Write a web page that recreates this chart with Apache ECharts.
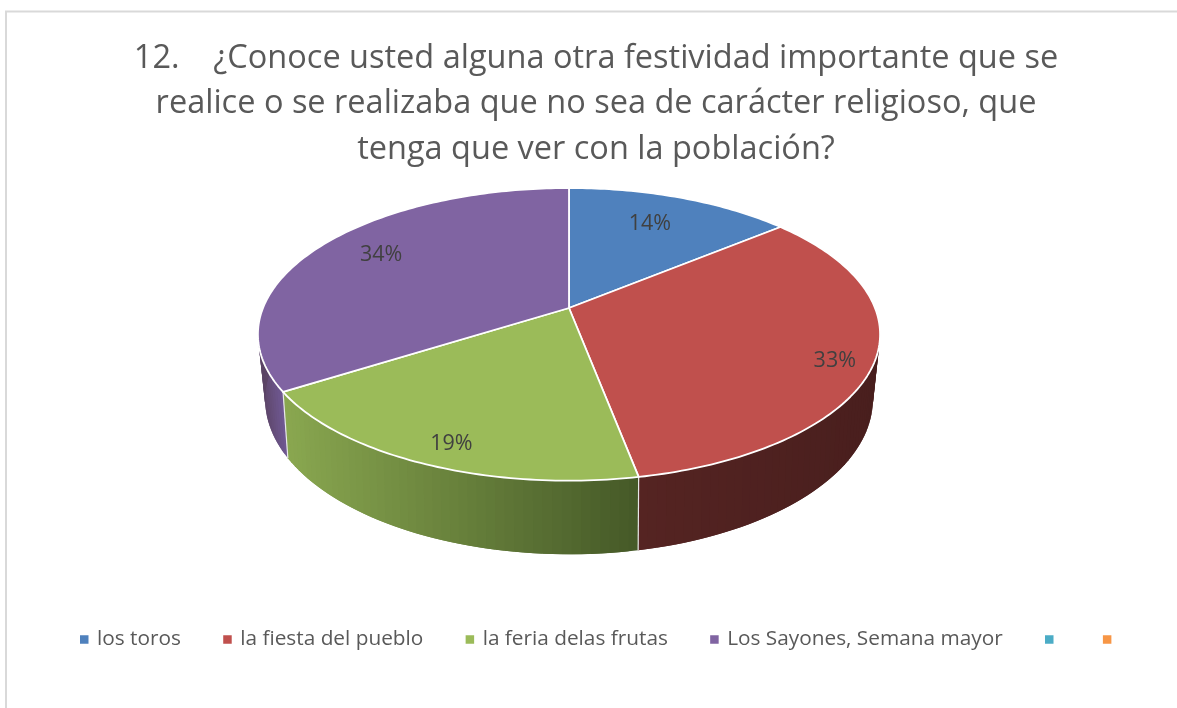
<!DOCTYPE html>
<html>
<head>
<meta charset="utf-8">
<title>Festividades</title>
<script src="https://cdn.jsdelivr.net/npm/echarts@6/dist/echarts.min.js"></script>
<style>
  html, body { margin: 0; padding: 0; background: #fff; }
  #myChart { width: 1177px; height: 708px; }
</style>
</head>
<body>
<div id="myChart"></div>
<script>
// datos
var titleLines = [
  '12.\u00a0\u00a0\u00a0\u00a0¿Conoce usted alguna otra festividad importante que se',
  'realice o se realizaba que no sea de carácter religioso, que',
  'tenga que ver con la población?'
];
var categories = ['los toros', 'la fiesta del pueblo', 'la feria delas frutas', 'Los Sayones, Semana mayor'];
var emptyCategories = ['\u200a', '\u200a\u200a'];
var values = [14, 33, 19, 34];

var colors = ['#4F81BD', '#C0504D', '#9BBB59', '#8064A2', '#4BACC6', '#F79646'];
// color de la pared lateral: [derecha, izquierda] de cada porcion
var wallShades = [
  ['#3a5f8c', '#3a5f8c'],
  ['#4a1f1e', '#552422'],
  ['#465a28', '#8aa850'],
  ['#6f5891', '#6a5386']
];
// sitio de cada etiqueta dentro de la porcion
var labelRadius = [0.744, 0.883, 0.873, 0.781];
var labelShift = [-1.7, 2.7, -1.3, 3.5];

// proyeccion en perspectiva de la cara superior e inferior
var topFace = { cx: 569, cy: 308, a: 306, b: 141.6, k: 0.18 };
var bottomFace = { cx: 569, cy: 369, a: 298, b: 149, k: 0.196 };

var total = values.reduce(function (s, v) { return s + v; }, 0);

function project(face, deg, r) {
  var t = deg * Math.PI / 180;
  var u = Math.sin(t) * r, v = Math.cos(t) * r;
  var d = 1 + face.k * v;
  return [face.cx + face.a * u / d, face.cy - face.b * v / d];
}

function sliceRange(index) {
  var before = 0;
  for (var i = 0; i < index; i++) before += values[i];
  return [before / total * 360, (before + values[index]) / total * 360];
}

function mix(c1, c2, f) {
  function ch(c, p) { return parseInt(c.substr(p, 2), 16); }
  var out = '#';
  [1, 3, 5].forEach(function (p) {
    var n = Math.round(ch(c1, p) + (ch(c2, p) - ch(c1, p)) * f);
    out += (n < 16 ? '0' : '') + n.toString(16);
  });
  return out;
}

function renderWall(params, api) {
  var i = params.dataIndex;
  var range = sliceRange(i);
  // solo la parte delantera se ve
  var from = Math.max(range[0], 80);
  var to = Math.min(range[1], 280);
  var children = [];
  if (to <= from) return { type: 'group', children: children };
  var steps = Math.ceil((to - from) / 1.5);
  var xA = project(topFace, from, 1)[0], xB = project(topFace, to, 1)[0];
  for (var s = 0; s < steps; s++) {
    var a0 = from + (to - from) * s / steps;
    // cada tramo pisa al siguiente para que no queden rayas
    var a1 = Math.min(to, from + (to - from) * (s + 2) / steps);
    var f = (project(topFace, a0, 1)[0] - xA) / (xB - xA);
    children.push({
      type: 'polygon',
      shape: { points: [project(topFace, a0, 1), project(topFace, a1, 1), project(bottomFace, a1, 1), project(bottomFace, a0, 1)] },
      style: { fill: mix(wallShades[i][0], wallShades[i][1], f) }
    });
  }
  // linea blanca entre porciones
  if (range[1] < 280) {
    children.push({
      type: 'line',
      z2: 5,
      shape: {
        x1: project(topFace, range[1], 1)[0], y1: project(topFace, range[1], 1)[1],
        x2: project(bottomFace, range[1], 1)[0], y2: project(bottomFace, range[1], 1)[1]
      },
      style: { stroke: '#e8e8e8', lineWidth: 1.2 }
    });
  }
  return { type: 'group', children: children };
}

function renderTop(index) {
  return function (params, api) {
    var range = sliceRange(index);
    var pts = [project(topFace, 0, 0)];
    var steps = Math.ceil((range[1] - range[0]) / 1);
    for (var s = 0; s <= steps; s++) {
      pts.push(project(topFace, range[0] + (range[1] - range[0]) * s / steps, 1));
    }
    var mid = (range[0] + range[1]) / 2 + labelShift[index];
    var pos = project(topFace, mid, labelRadius[index]);
    return {
      type: 'group',
      children: [
        {
          type: 'polygon',
          shape: { points: pts },
          style: { fill: colors[index], stroke: '#fff', lineWidth: 1.8, lineJoin: 'round' }
        },
        {
          type: 'text',
          z2: 10,
          style: {
            x: pos[0], y: pos[1] + 2,
            text: Math.round(api.value(0) / total * 100) + '%',
            fill: '#404040',
            font: '21.5px "Open Sans"',
            align: 'center',
            verticalAlign: 'middle'
          }
        }
      ]
    };
  };
}

var series = [{
  name: 'paredes',
  type: 'custom',
  coordinateSystem: 'none',
  z: 1,
  silent: true,
  animation: false,
  data: values,
  renderItem: renderWall
}];
categories.forEach(function (name, i) {
  series.push({
    name: name,
    type: 'custom',
    coordinateSystem: 'none',
    z: 2,
    animation: false,
    itemStyle: { color: colors[i] },
    data: [values[i]],
    renderItem: renderTop(i)
  });
});
emptyCategories.forEach(function (name, i) {
  series.push({
    name: name,
    type: 'custom',
    coordinateSystem: 'none',
    itemStyle: { color: colors[4 + i] },
    data: [],
    renderItem: function () { return { type: 'group', children: [] }; }
  });
});

var myChart = echarts.init(document.getElementById('myChart'));
myChart.setOption({
  backgroundColor: '#fff',
  animation: false,
  color: colors,
  graphic: [{
    type: 'rect',
    silent: true,
    shape: { x: 6, y: 11.5, width: 1400, height: 1000 },
    style: { fill: 'none', stroke: '#d9d9d9', lineWidth: 2 }
  }],
  title: {
    text: titleLines.join('\n'),
    left: 591,
    top: 30.5,
    textAlign: 'center',
    textStyle: {
      color: '#595959',
      fontFamily: 'Open Sans',
      fontWeight: 'normal',
      fontSize: 32.5,
      lineHeight: 45.5
    }
  },
  legend: {
    data: categories.concat([]).concat(emptyCategories.map(function (name) {
      return { name: name, textStyle: { padding: 0 } };
    })),
    left: 75,
    top: 624,
    icon: 'rect',
    itemWidth: 8.5,
    itemHeight: 8.5,
    itemGap: 42.3,
    selectedMode: false,
    textStyle: {
      color: '#595959',
      fontFamily: 'Open Sans',
      fontSize: 20.8,
      padding: [0, 0, 0, 3.5]
    }
  },
  series: series
});
</script>
</body>
</html>
